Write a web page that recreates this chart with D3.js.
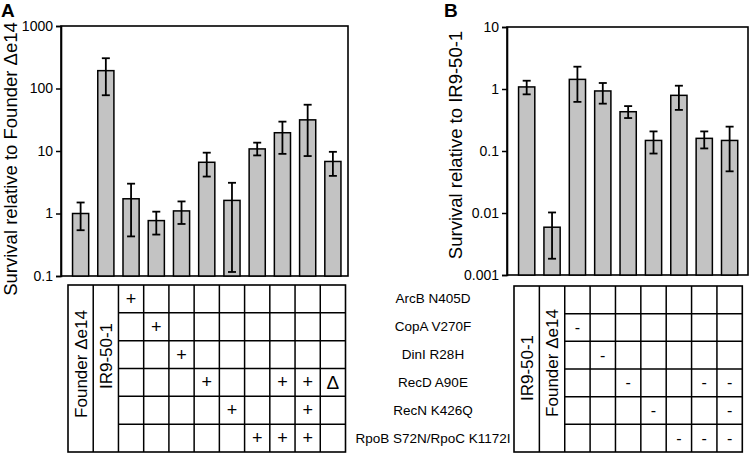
<!DOCTYPE html>
<html><head><meta charset="utf-8">
<script src="https://cdn.jsdelivr.net/npm/d3@7"></script>
<style>body{margin:0;background:#fff}svg{display:block;font-family:"Liberation Sans",Arial,sans-serif}</style>
</head><body>
<svg id="c" width="750" height="454"></svg>
<script>
// ---------- data ----------
const mutations = ["ArcB N405D","CopA V270F","DinI R28H","RecD A90E","RecN K426Q","RpoB S72N/RpoC K1172I"];

const catsA = ["Founder Δe14","IR9-50-1","A1","A2","A3","A4","A5","A6","A7","A8","A9"];
const valsA = [1.0, 193, 1.72, 0.77, 1.1, 6.6, 1.62, 10.8, 19.6, 31.5, 6.8];
const lowA  = [0.54, 78, 0.43, 0.46, 0.68, 3.9, 0.116, 8.5, 9.0, 8.3, 4.0];
const highA = [1.5, 305, 3.0, 1.07, 1.56, 9.4, 3.1, 13.6, 29.5, 55, 9.7];
const ticksA = [0.1, 1, 10, 100, 1000];
const marksA = [
  ["+","","","","","","","",""],
  ["","+","","","","","","",""],
  ["","","+","","","","","",""],
  ["","","","+","","","+","+","Δ"],
  ["","","","","+","","","+",""],
  ["","","","","","+","+","+",""]
];

const catsB = ["IR9-50-1","Founder Δe14","B1","B2","B3","B4","B5","B6","B7"];
const valsB = [1.08, 0.0059, 1.43, 0.93, 0.43, 0.148, 0.79, 0.16, 0.148];
const lowB  = [0.82, 0.00183, 0.62, 0.58, 0.34, 0.091, 0.46, 0.11, 0.047];
const highB = [1.36, 0.0102, 2.29, 1.25, 0.53, 0.207, 1.13, 0.207, 0.247];
const ticksB = [0.001, 0.01, 0.1, 1, 10];
const marksB = [
  ["","","","","","",""],
  ["-","","","","","",""],
  ["","-","","","","",""],
  ["","","-","","","-","-"],
  ["","","","-","","","-"],
  ["","","","","-","-","-"]
];

const svg = d3.select("#c");
const BAR = "#c3c3c3";

function panel(o){
  const g = svg.append("g");
  const y = d3.scaleLog().domain(o.domain).range([o.bottom, o.top]);
  const x = d3.scaleBand().domain(o.cats).range([o.bx0, o.bx1]).paddingInner(0.36).paddingOuter(0.18);
  const xc = d3.scaleBand().domain(o.cats).range([o.bx0, o.bx1]);
  // frame
  g.append("rect").attr("x", o.ax).attr("y", o.top).attr("width", o.right - o.ax).attr("height", o.bottom - o.top)
    .attr("fill","none").attr("stroke","#000").attr("stroke-width",1.6);
  // axis
  const axis = d3.axisLeft(y).tickValues(o.ticks).tickFormat(d => String(d)).tickSize(5).tickPadding(3);
  const ag = g.append("g").attr("transform",`translate(${o.ax},0)`).call(axis);
  ag.select(".domain").attr("stroke-width",1.6);
  ag.selectAll(".tick line").attr("stroke-width",1.5);
  ag.selectAll("text").attr("font-size",14).attr("font-family","Liberation Sans, Arial, sans-serif").attr("fill","#000");
  // bars
  g.selectAll(".bar").data(o.vals).join("rect")
    .attr("x",(d,i)=>x(o.cats[i])).attr("width",x.bandwidth())
    .attr("y",d=>y(d)).attr("height",d=>o.bottom - y(d))
    .attr("fill",BAR).attr("stroke","#000").attr("stroke-width",1.5);
  // error bars
  const eb = g.selectAll(".eb").data(o.vals).join("g");
  eb.append("line").attr("x1",(d,i)=>x(o.cats[i])+x.bandwidth()/2).attr("x2",(d,i)=>x(o.cats[i])+x.bandwidth()/2)
    .attr("y1",(d,i)=>y(o.low[i])).attr("y2",(d,i)=>y(o.high[i])).attr("stroke","#000").attr("stroke-width",1.8);
  [o.low,o.high].forEach(arr=>{
    eb.append("line").attr("x1",(d,i)=>x(o.cats[i])+x.bandwidth()/2-4).attr("x2",(d,i)=>x(o.cats[i])+x.bandwidth()/2+4)
      .attr("y1",(d,i)=>y(arr[i])).attr("y2",(d,i)=>y(arr[i])).attr("stroke","#000").attr("stroke-width",1.8);
  });
  // y title
  g.append("text").attr("transform",`translate(${o.titleX},${o.titleY}) rotate(-90)`)
    .attr("text-anchor","middle").attr("font-size",18.5).text(o.title);
  // panel letter
  g.append("text").attr("x",o.letterX).attr("y",o.letterY).attr("font-size",19).attr("font-weight","bold").text(o.letter);

  // table
  const t = svg.append("g");
  const rh = (o.tb - o.tt)/6;
  const L = xc.range()[0], R = xc.range()[1];
  t.append("rect").attr("x",L).attr("y",o.tt).attr("width",R-L).attr("height",o.tb-o.tt)
    .attr("fill","none").attr("stroke","#000").attr("stroke-width",1.6);
  o.cats.forEach((c,i)=>{ if(i>0) t.append("line").attr("x1",xc(c)).attr("x2",xc(c)).attr("y1",o.tt).attr("y2",o.tb).attr("stroke","#000").attr("stroke-width",1.5); });
  for(let r=1;r<6;r++){
    t.append("line").attr("x1",xc(o.cats[2])).attr("x2",R).attr("y1",o.tt+r*rh).attr("y2",o.tt+r*rh).attr("stroke","#000").attr("stroke-width",1.5);
  }
  // vertical strain names
  o.vnames.forEach(v=>{
    const cx = xc(o.cats[v.i]) + xc.bandwidth()/2;
    t.append("text").attr("transform",`translate(${cx+6},${v.cy}) rotate(-90)`)
      .attr("text-anchor","middle").attr("font-size",17).text(o.cats[v.i]);
  });
  // marks
  o.marks.forEach((row,r)=>{
    row.forEach((m,j)=>{
      if(!m) return;
      const c = o.cats[j+2];
      t.append("text").attr("x",xc(c)+xc.bandwidth()/2).attr("y",o.tt+(r+0.5)*rh)
        .attr("text-anchor","middle").attr("dominant-baseline","central")
        .attr("font-size", m==="Δ"?19:(m==="-"?16:18)).text(m);
    });
  });
}

panel({cats:catsA, vals:valsA, low:lowA, high:highA, ticks:ticksA, domain:[0.1,1000], marks:marksA,
  top:26, bottom:276, ax:61, right:348, bx0:68, bx1:345.5,
  title:"Survival relative to Founder Δe14", titleX:17, titleY:159, letter:"A", letterX:1, letterY:17,
  tt:285, tb:452, vnames:[{i:0,cy:364},{i:1,cy:356}]});

panel({cats:catsB, vals:valsB, low:lowB, high:highB, ticks:ticksB, domain:[0.001,10], marks:marksB,
  top:27, bottom:275, ax:507, right:748, bx0:514, bx1:742.3,
  title:"Survival relative to IR9-50-1", titleX:462, titleY:145, letter:"B", letterX:444, letterY:17,
  tt:286, tb:452, vnames:[{i:0,cy:368},{i:1,cy:363}]});

// mutation row labels (centre)
const rhM = (452-285)/6;
svg.append("g").selectAll("text").data(mutations).join("text")
  .attr("x",433).attr("y",(d,i)=>285+(i+0.5)*rhM).attr("text-anchor","middle").attr("dominant-baseline","central")
  .attr("font-size",13.5).text(d=>d);
</script>
</body></html>
